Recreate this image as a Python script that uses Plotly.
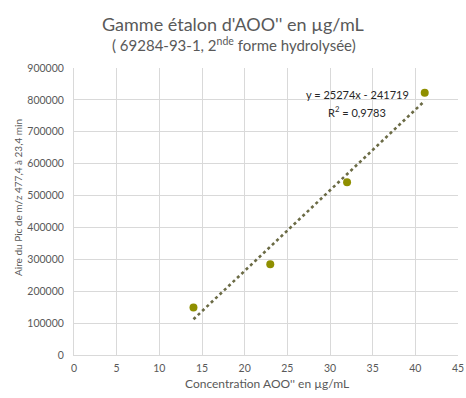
import plotly.graph_objects as go

# Data
concentration = [14, 23, 32, 41.1]
aire_pic = [149000, 284500, 542000, 822000]

# Trendline coefficients as printed on the chart
slope = 25274
intercept = -241719
r2_label = "0,9783"

x_ticks = [0, 5, 10, 15, 20, 25, 30, 35, 40, 45]
y_ticks = [0, 100000, 200000, 300000, 400000, 500000, 600000, 700000, 800000, 900000]

title_text = "Gamme étalon d'AOO'' en µg/mL"
subtitle_text = "( 69284-93-1, 2<sup>nde</sup> forme hydrolysée)"
x_title = "Concentration AOO'' en µg/mL"
y_title = "Aire du Pic de m/z 477,4 à 23,4 min"

trend_x = [min(concentration), max(concentration)]
trend_y = [slope * v + intercept for v in trend_x]

FONT = "Lato, Open Sans, sans-serif"
GRAY = "#595959"

W, H = 466, 398
L, R, T, B = 74, 8, 68, 43
pw, ph = W - L - R, H - T - B


def px_to_paper(px, py):
    return (px - L) / pw, (H - B - py) / ph


fig = go.Figure()
fig.add_trace(go.Scatter(
    x=trend_x, y=trend_y, mode="lines",
    line=dict(color="#6b6b45", width=2.6, dash="dot"),
    hoverinfo="skip", showlegend=False))
fig.add_trace(go.Scatter(
    x=concentration, y=aire_pic, mode="markers",
    marker=dict(color="#8f8f00", size=8),
    showlegend=False))


def ann(text, px, py, size, color=GRAY, angle=0):
    x, y = px_to_paper(px, py)
    return dict(text=text, x=x, y=y, xref="paper", yref="paper",
                xanchor="center", yanchor="middle", showarrow=False,
                textangle=angle, font=dict(size=size, color=color, family=FONT))


fig.update_layout(
    width=W, height=H,
    margin=dict(l=L, r=R, t=T, b=B),
    paper_bgcolor="white", plot_bgcolor="white",
    font=dict(family=FONT, color=GRAY, size=10),
    xaxis=dict(
        range=[0, 45], tickvals=x_ticks, showgrid=True, gridcolor="#d9d9d9",
        zeroline=False, showline=True, linecolor="#d9d9d9", ticks="",
        automargin=False, ticklabelstandoff=3, tickfont=dict(size=10.5, color=GRAY)),
    yaxis=dict(
        range=[0, 900000], tickvals=y_ticks, showgrid=True, gridcolor="#d9d9d9",
        zeroline=False, showline=True, linecolor="#d9d9d9", ticks="",
        automargin=False, ticklabelstandoff=7, tickformat="d",
        tickfont=dict(size=10.5, color=GRAY)),
    annotations=[
        ann(title_text, 233, 24, 18),
        ann(subtitle_text, 234, 44, 15),
        ann(x_title, 267, 383, 12),
        ann(y_title, 18, 198, 10, angle=-90),
        ann(f"y = {slope}x - {abs(intercept)}", 357, 94, 11, color="#262626"),
        ann(f"R<sup>2</sup> = {r2_label}", 357, 111, 11, color="#262626"),
    ],
)

fig.write_html(
    "out.html",
    config={"displayModeBar": False},
    post_script="document.body.style.margin='0';document.body.style.overflow='hidden';",
)
